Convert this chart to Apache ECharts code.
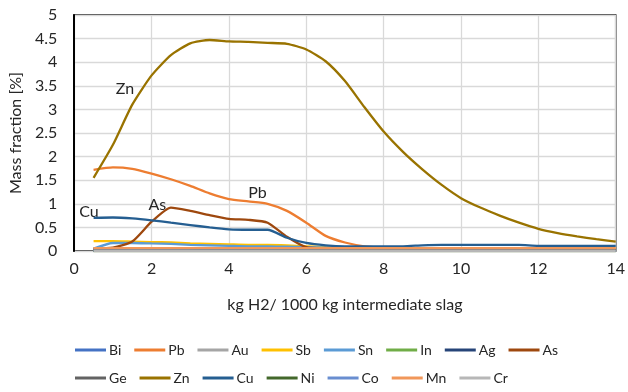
<!DOCTYPE html>
<html>
<head>
<meta charset="utf-8">
<script src="https://cdn.jsdelivr.net/npm/echarts@6/dist/echarts.min.js"></script>
<style>
  html, body { margin: 0; padding: 0; background: #fff; }
  #chart { width: 628px; height: 392px; }
</style>
</head>
<body>
<div id="chart"></div>
<script>
// x: kg H2 per 1000 kg intermediate slag
const xs = [0.5, 1, 1.5, 2, 2.5, 3, 3.5, 4, 4.5, 5, 5.5, 6, 6.5, 7, 7.5, 8, 8.5, 9, 9.5, 10, 10.5, 11, 11.5, 12, 12.5, 13, 13.5, 14]

// mass fraction [%]
const bi = [0.01, 0.01, 0.01, 0.01, 0.01, 0.01, 0.01, 0.01, 0.01, 0.01, 0.01, 0.01, 0.01, 0.01, 0.01, 0.01, 0.01, 0.01, 0.01, 0.01, 0.01, 0.01, 0.01, 0.01, 0.01, 0.01, 0.01, 0.01]
const pb = [1.72, 1.77, 1.74, 1.64, 1.52, 1.38, 1.22, 1.1, 1.05, 1.0, 0.85, 0.6, 0.32, 0.18, 0.1, 0.07, 0.05, 0.05, 0.05, 0.05, 0.05, 0.05, 0.05, 0.05, 0.05, 0.05, 0.05, 0.05]
const au = [0, 0, 0, 0, 0, 0, 0, 0, 0, 0, 0, 0, 0, 0, 0, 0, 0, 0, 0, 0, 0, 0, 0, 0, 0, 0, 0, 0]
const sb = [0.21, 0.21, 0.2, 0.19, 0.18, 0.16, 0.15, 0.14, 0.13, 0.13, 0.12, 0.1, 0.08, 0.07, 0.06, 0.05, 0.04, 0.04, 0.04, 0.04, 0.04, 0.04, 0.04, 0.04, 0.04, 0.04, 0.04, 0.04]
const sn = [0.05, 0.17, 0.17, 0.16, 0.15, 0.13, 0.12, 0.11, 0.1, 0.1, 0.09, 0.08, 0.07, 0.06, 0.05, 0.04, 0.03, 0.03, 0.03, 0.03, 0.03, 0.03, 0.03, 0.03, 0.03, 0.03, 0.03, 0.03]
const inn = [0, 0, 0, 0, 0, 0, 0, 0, 0, 0, 0, 0, 0, 0, 0, 0, 0, 0, 0, 0, 0, 0, 0, 0, 0, 0, 0, 0]
const ag = [0.03, 0.04, 0.05, 0.05, 0.05, 0.05, 0.04, 0.04, 0.04, 0.04, 0.03, 0.03, 0.03, 0.02, 0.02, 0.02, 0.02, 0.02, 0.02, 0.02, 0.02, 0.02, 0.02, 0.02, 0.02, 0.02, 0.02, 0.02]
const as = [0.05, 0.07, 0.2, 0.62, 0.92, 0.85, 0.76, 0.68, 0.66, 0.6, 0.3, 0.08, 0.05, 0.04, 0.03, 0.03, 0.02, 0.02, 0.02, 0.02, 0.02, 0.02, 0.02, 0.02, 0.02, 0.02, 0.02, 0.02]
const ge = [0.01, 0.01, 0.01, 0.01, 0.01, 0.01, 0.01, 0.01, 0.01, 0.01, 0.01, 0.01, 0.01, 0.01, 0.01, 0.01, 0.01, 0.01, 0.01, 0.01, 0.01, 0.01, 0.01, 0.01, 0.01, 0.01, 0.01, 0.01]
const zn = [1.55, 2.25, 3.1, 3.72, 4.15, 4.4, 4.47, 4.44, 4.43, 4.41, 4.39, 4.27, 4.02, 3.6, 3.05, 2.53, 2.1, 1.73, 1.4, 1.12, 0.92, 0.75, 0.6, 0.47, 0.38, 0.31, 0.25, 0.2]
const cu = [0.7, 0.71, 0.69, 0.65, 0.6, 0.55, 0.5, 0.46, 0.45, 0.45, 0.28, 0.17, 0.12, 0.1, 0.1, 0.1, 0.1, 0.12, 0.13, 0.13, 0.13, 0.13, 0.13, 0.11, 0.11, 0.11, 0.11, 0.11]
const ni = [0, 0, 0, 0, 0, 0, 0, 0, 0, 0, 0, 0, 0, 0, 0, 0, 0, 0, 0, 0, 0, 0, 0, 0, 0, 0, 0, 0]
const co = [0.01, 0.01, 0.01, 0.01, 0.01, 0.01, 0.01, 0.01, 0.01, 0.01, 0.01, 0.01, 0.01, 0.01, 0.01, 0.01, 0.01, 0.01, 0.01, 0.01, 0.01, 0.01, 0.01, 0.01, 0.01, 0.01, 0.01, 0.01]
const mn = [0.06, 0.06, 0.06, 0.06, 0.06, 0.06, 0.06, 0.06, 0.06, 0.06, 0.06, 0.06, 0.06, 0.06, 0.06, 0.06, 0.06, 0.06, 0.06, 0.06, 0.06, 0.06, 0.06, 0.06, 0.06, 0.06, 0.06, 0.06]
const cr = [0, 0, 0, 0, 0, 0, 0, 0, 0, 0, 0, 0, 0, 0, 0, 0, 0, 0, 0, 0, 0, 0, 0, 0, 0, 0, 0, 0]

const names = ['Bi', 'Pb', 'Au', 'Sb', 'Sn', 'In', 'Ag', 'As', 'Ge', 'Zn', 'Cu', 'Ni', 'Co', 'Mn', 'Cr']
const values = [bi, pb, au, sb, sn, inn, ag, as, ge, zn, cu, ni, co, mn, cr]
const colors = ['#4472C4', '#ED7D31', '#A5A5A5', '#FFC000', '#5B9BD5', '#70AD47', '#264478', '#9E480E',
  '#636363', '#997300', '#255E91', '#43682B', '#698ED0', '#F1975A', '#B7B7B7']

// in-plot labels (data coords)
const labels = { Zn: [1.31, 3.43], Pb: [4.74, 1.23], As: [2.15, 0.97], Cu: [0.38, 0.83] }

const font = 'Lato'
const txt = '#262626'
const chart = echarts.init(document.getElementById('chart'))

const series = names.map((n, i) => {
  const s = {
    name: n,
    type: 'line',
    data: xs.map((x, j) => [x, values[i][j]]),
    showSymbol: false,
    symbol: 'none',
    smooth: 0.2,
    lineStyle: { width: 2.3, color: colors[i] },
    itemStyle: { color: colors[i] },
    z: 2 + i
  }
  if (labels[n]) {
    s.markPoint = {
      symbol: 'circle',
      symbolSize: 0,
      silent: true,
      data: [{ coord: labels[n] }],
      label: { show: true, position: 'inside', formatter: n, color: txt, fontSize: 16, fontFamily: font }
    }
  }
  return s
})

const legendBase = {
  left: 70,
  icon: 'rect',
  itemWidth: 31,
  itemHeight: 3,
  itemGap: 13,
  textStyle: { fontSize: 14, color: txt, fontFamily: font, padding: [0, 0, 0, -2] }
}

chart.setOption({
  animation: false,
  color: colors,
  grid: {
    left: 73, right: 9, top: 15, bottom: 141,
    show: true, borderColor: '#000', borderWidth: 1.5
  },
  legend: [
    Object.assign({ top: 338, data: names.slice(0, 8) }, legendBase),
    Object.assign({ top: 366, data: names.slice(8) }, legendBase)
  ],
  xAxis: {
    type: 'value',
    min: 0, max: 14, interval: 2,
    name: 'kg H2/ 1000 kg intermediate slag',
    nameLocation: 'middle',
    nameGap: 46,
    nameTextStyle: { fontSize: 16, color: txt, fontFamily: font },
    axisLine: { show: false },
    axisTick: { show: false },
    axisLabel: { fontSize: 16, color: txt, fontFamily: font, margin: 10 },
    splitLine: { show: true, lineStyle: { color: '#d9d9d9', width: 1.3 } }
  },
  yAxis: {
    type: 'value',
    min: 0, max: 5, interval: 0.5,
    name: 'Mass fraction [%]',
    nameLocation: 'middle',
    nameGap: 42,
    nameTextStyle: { fontSize: 16, color: txt, fontFamily: font },
    axisLine: { show: true, lineStyle: { color: '#000', width: 2 } },
    axisTick: { show: false },
    axisLabel: { fontSize: 16, color: txt, fontFamily: font, margin: 17 },
    splitLine: { show: true, lineStyle: { color: '#d9d9d9', width: 1.3 } }
  },
  series: series
})
</script>
</body>
</html>
